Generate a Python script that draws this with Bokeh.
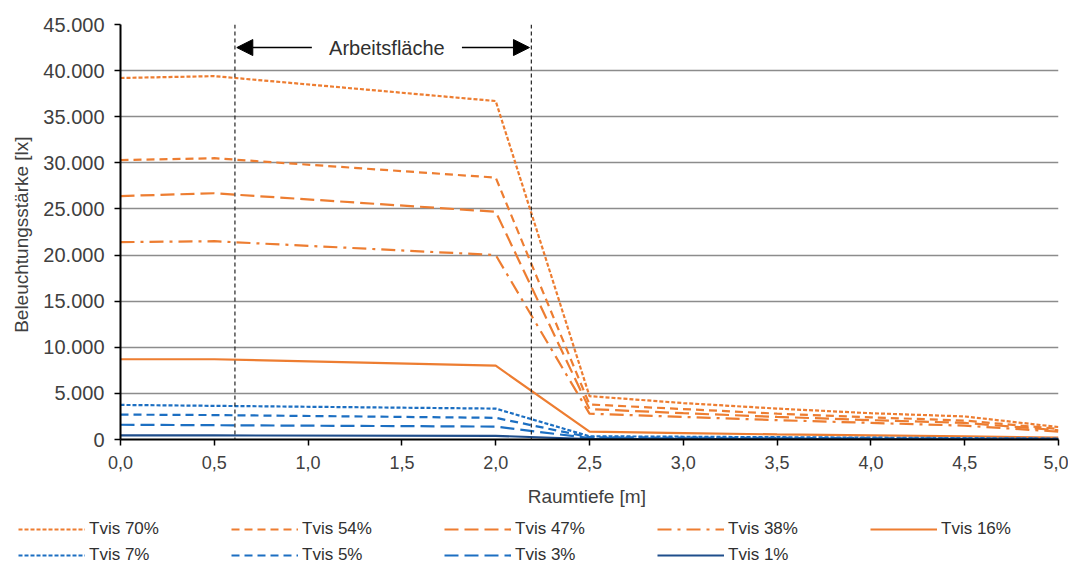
from bokeh.plotting import figure
from bokeh.layouts import column
from bokeh.models import (FixedTicker, Legend, LegendItem, Span, Arrow, NormalHead, Label)
from bokeh.embed import file_html
from bokeh.resources import INLINE

# ---- data ----
x_pos = [0.0, 0.5, 2.0, 2.5, 3.0, 3.5, 4.0, 4.5, 5.0]
tvis70 = [39200, 39400, 36700, 4700, 3950, 3350, 2850, 2500, 1350]
tvis54 = [30300, 30500, 28400, 3800, 3300, 2800, 2400, 2050, 1150]
tvis47 = [26400, 26700, 24700, 3300, 2850, 2450, 2100, 1800, 1000]
tvis38 = [21400, 21500, 20000, 2800, 2450, 2100, 1800, 1500, 850]
tvis16 = [8700, 8700, 8000, 850, 700, 550, 450, 350, 200]
tvis7 = [3750, 3650, 3350, 350, 300, 250, 200, 150, 100]
tvis5 = [2700, 2650, 2350, 250, 200, 170, 140, 110, 80]
tvis3 = [1600, 1550, 1400, 150, 120, 100, 80, 60, 50]
tvis1 = [450, 440, 400, 50, 40, 35, 30, 25, 20]

series_labels = ["Tvis 70%", "Tvis 54%", "Tvis 47%", "Tvis 38%", "Tvis 16%",
                 "Tvis 7%", "Tvis 5%", "Tvis 3%", "Tvis 1%"]
series_values = [tvis70, tvis54, tvis47, tvis38, tvis16, tvis7, tvis5, tvis3, tvis1]

x_ticks = [0.0, 0.5, 1.0, 1.5, 2.0, 2.5, 3.0, 3.5, 4.0, 4.5, 5.0]
x_tick_labels = ["0,0", "0,5", "1,0", "1,5", "2,0", "2,5", "3,0", "3,5", "4,0", "4,5", "5,0"]
y_ticks = [0, 5000, 10000, 15000, 20000, 25000, 30000, 35000, 40000, 45000]
y_tick_labels = ["0", "5.000", "10.000", "15.000", "20.000", "25.000", "30.000",
                 "35.000", "40.000", "45.000"]

work_area = [0.61, 2.19]
annot_text = "Arbeitsfläche"

# ---- styles ----
ORANGE = "#ED7D31"
BLUE = "#1C6FC2"
DARKBLUE = "#1F4E8C"
styles = [
    (ORANGE, "4 2"), (ORANGE, "8 5"), (ORANGE, "14 6"), (ORANGE, "14 6 3 6"), (ORANGE, "solid"),
    (BLUE, "4 2"), (BLUE, "8 5"), (BLUE, "14 6"), (DARKBLUE, "solid"),
]

FONT = "Liberation Sans"
W = 1068

p = figure(width=W, height=514, x_range=(0, 5), y_range=(0, 45000),
           output_backend="svg", toolbar_location=None,
           min_border_left=120, min_border_right=10, min_border_top=24, min_border_bottom=75)
p.outline_line_color = None

for vals, (col, dash) in zip(series_values, styles):
    p.line(x_pos, vals, line_color=col, line_dash=dash, line_width=2.2)

# axes
p.xaxis.ticker = FixedTicker(ticks=x_ticks)
p.xaxis.major_label_overrides = {t: l for t, l in zip(x_ticks, x_tick_labels)}
p.yaxis.ticker = FixedTicker(ticks=y_ticks)
p.yaxis.major_label_overrides = {t: l for t, l in zip(y_ticks, y_tick_labels)}
for ax in (p.xaxis, p.yaxis):
    ax.axis_line_color = "black"
    ax.axis_line_width = 2
    ax.major_tick_line_color = "black"
    ax.major_tick_line_width = 1.5
    ax.major_tick_out = 6
    ax.major_tick_in = 0
    ax.minor_tick_line_color = None
    ax.major_label_text_font = FONT
    ax.major_label_text_color = "#404040"
    ax.axis_label_text_font = FONT
    ax.axis_label_text_font_style = "normal"
    ax.axis_label_text_color = "#404040"
p.xaxis.major_label_text_font_size = "18px"
p.yaxis.major_label_text_font_size = "20px"
p.xaxis.major_label_standoff = 10
p.yaxis.major_label_standoff = 10
p.xaxis.axis_label = "Raumtiefe  [m]"
p.yaxis.axis_label = "Beleuchtungsstärke  [lx]"
p.xaxis.axis_label_text_font_size = "19px"
p.yaxis.axis_label_text_font_size = "19px"
p.xaxis.axis_label_standoff = 14
p.yaxis.axis_label_standoff = 8

p.xgrid.grid_line_color = None
p.ygrid.ticker = FixedTicker(ticks=y_ticks)
p.ygrid.grid_line_color = "#8C8C8C"
p.ygrid.grid_line_width = 1.3

# work area
for xv in work_area:
    p.add_layout(Span(location=xv, dimension="height", line_color="#222222",
                      line_dash="4 3", line_width=1.2))
y_arrow = 42500
p.add_layout(Arrow(end=NormalHead(size=16, fill_color="black", line_color="black"),
                   x_start=1.02, y_start=y_arrow, x_end=work_area[0] + 0.01, y_end=y_arrow,
                   line_width=1.5, line_color="black"))
p.add_layout(Arrow(end=NormalHead(size=16, fill_color="black", line_color="black"),
                   x_start=1.82, y_start=y_arrow, x_end=work_area[1] - 0.01, y_end=y_arrow,
                   line_width=1.5, line_color="black"))
p.add_layout(Label(x=1.42, y=y_arrow, text=annot_text, text_align="center",
                   text_baseline="middle", text_font=FONT, text_font_size="20px",
                   text_color="#303030"))

# legend strip below the chart: same series drawn outside its visible range,
# only their legend glyphs are shown
lg = figure(width=W, height=53, x_range=(0, 5), y_range=(-2, -1),
            output_backend="svg", toolbar_location=None,
            x_axis_type=None, y_axis_type=None, min_border=0)
lg.frame_align = False
lg.outline_line_color = None
lg.xgrid.grid_line_color = None
lg.ygrid.grid_line_color = None
lg_renderers = []
for vals, (col, dash) in zip(series_values, styles):
    lg_renderers.append(lg.line(x_pos, vals, line_color=col, line_dash=dash, line_width=2.2))

def make_legend(idx, loc):
    return Legend(items=[LegendItem(label=series_labels[i], renderers=[lg_renderers[i]]) for i in idx],
                  location=loc, orientation="horizontal",
                  glyph_width=67, glyph_height=18, label_width=134, label_height=18,
                  label_standoff=4, spacing=8, padding=0, margin=0,
                  border_line_color=None, background_fill_alpha=0,
                  label_text_font=FONT, label_text_font_size="17px",
                  label_text_color="#303030")

lg.add_layout(make_legend(range(0, 5), (18, 28)))
lg.add_layout(make_legend(range(5, 9), (18, 2)))

layout = column(p, lg, spacing=0)
open("out.html", "w").write(file_html(layout, INLINE))
